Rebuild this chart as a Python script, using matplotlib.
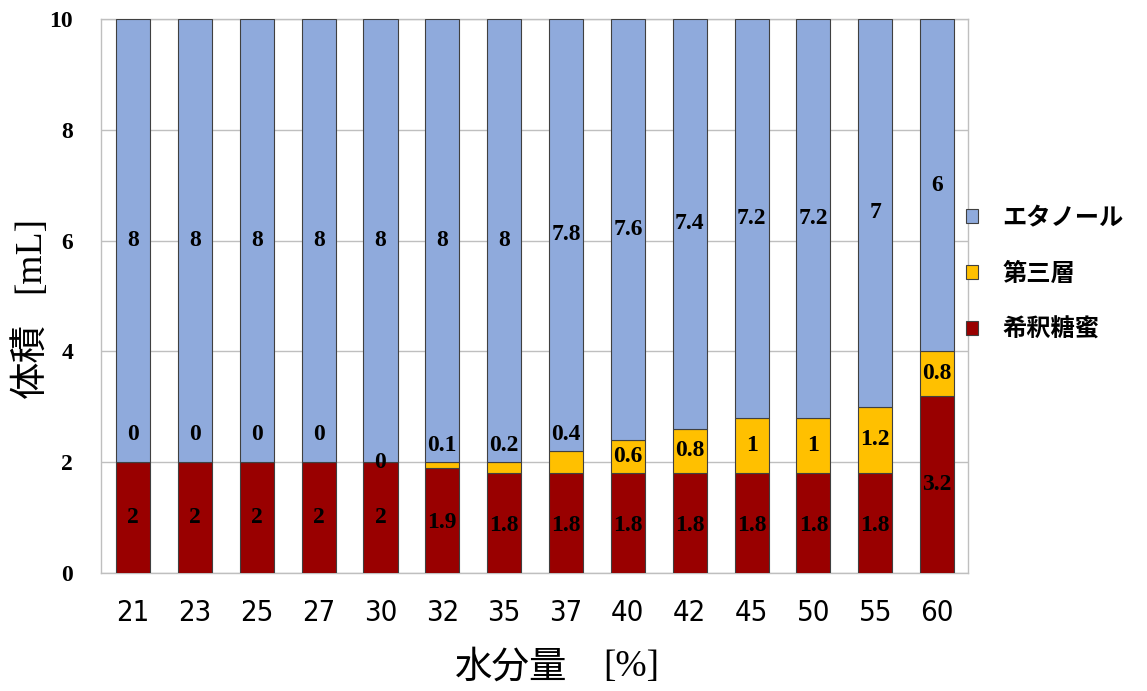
import matplotlib
matplotlib.use("Agg")
import matplotlib.pyplot as plt
from matplotlib.patches import Patch
import numpy as np

# water content categories and layer volumes (mL)
water = ["21", "23", "25", "27", "30", "32", "35", "37", "40", "42", "45", "50", "55", "60"]
dilute = [2, 2, 2, 2, 2, 1.9, 1.8, 1.8, 1.8, 1.8, 1.8, 1.8, 1.8, 3.2]
third = [0, 0, 0, 0, 0, 0.1, 0.2, 0.4, 0.6, 0.8, 1, 1, 1.2, 0.8]
ethanol = [8, 8, 8, 8, 8, 8, 8, 7.8, 7.6, 7.4, 7.2, 7.2, 7, 6]
series_names = ["エタノール", "第三層", "希釈糖蜜"]
y_ticks = [0, 2, 4, 6, 8, 10]

c_eth = "#8FAADC"
c_third = "#FFC000"
c_dil = "#990000"
edge = "#404040"

serif = ["Liberation Serif", "DejaVu Serif"]
cjk = ["Noto Sans CJK JP", "DejaVu Sans"]

fig = plt.figure(figsize=(11.47, 6.91), dpi=100)
ax = fig.add_axes([0.088, 0.171, 0.756, 0.8015])

x = np.arange(len(water))
w = 0.55
dil = np.array(dilute)
thd = np.array(third)
eth = np.array(ethanol)

ax.bar(x, dil, w, color=c_dil, edgecolor=edge, linewidth=0.8, zorder=3)
ax.bar(x, thd, w, bottom=dil, color=c_third, edgecolor=edge, linewidth=0.8, zorder=3)
ax.bar(x, eth, w, bottom=dil + thd, color=c_eth, edgecolor=edge, linewidth=0.8, zorder=3)

lab_kw = dict(ha="center", va="center", fontsize=17, fontweight="bold",
              family=serif, color="black", zorder=5)

for i in range(len(water)):
    # dilute molasses label centred in its segment
    ax.text(x[i], dil[i] / 2 - (0.05 if dil[i] < 2 else 0), f"{dil[i]:g}", **lab_kw)
    # third-layer label: inside when the segment is tall enough, above otherwise
    top = dil[i] + thd[i]
    if thd[i] >= 0.5:
        ty = dil[i] + thd[i] / 2
    elif thd[i] == 0:
        ty = 2.0 if water[i] == "30" else top + 0.5
    else:
        ty = top + 0.3
    ax.text(x[i], ty, f"{thd[i]:g}", **lab_kw)
    # ethanol label centred in its segment
    ax.text(x[i], top + eth[i] / 2, f"{eth[i]:g}", **lab_kw)

ax.set_xlim(-0.52, len(water) - 0.5)
ax.set_ylim(0, 10)
ax.set_yticks(y_ticks)
ax.set_yticklabels([str(t) for t in y_ticks], family=serif, fontweight="bold", fontsize=17)
ax.set_xticks(x)
ax.set_xticklabels(water, family=["DejaVu Sans"], stretch="condensed", fontsize=21)
ax.tick_params(axis="y", length=0, pad=20)
ax.tick_params(axis="x", length=0, pad=19)
ax.grid(axis="y", color="#BFBFBF", linewidth=1, zorder=0)
for s in ax.spines.values():
    s.set_color("#BFBFBF")
    s.set_linewidth(1)

# axis titles: Japanese words in sans, bracketed units in serif
fig.text(0.026, 0.4776, "体積", rotation=90, ha="center", va="center",
         family=cjk, fontsize=27)
fig.text(0.026, 0.6324, "[mL]", rotation=90, ha="center", va="center",
         family=serif, fontsize=27)
fig.text(0.4455, 0.035, "水分量", ha="center", va="center", family=cjk, fontsize=27)
fig.text(0.550, 0.035, "[%]", ha="center", va="center", family=serif, fontsize=27)

handles = [Patch(facecolor=c, edgecolor=edge, linewidth=0.8) for c in (c_eth, c_third, c_dil)]
leg = fig.legend(handles, series_names, loc="center left", bbox_to_anchor=(0.823, 0.604),
                 frameon=False, handlelength=0.5, handleheight=0.5, handletextpad=1.0,
                 labelspacing=1.3, prop=dict(family=cjk, weight="bold", size=17.5))

fig.savefig("out.png", dpi=100)
